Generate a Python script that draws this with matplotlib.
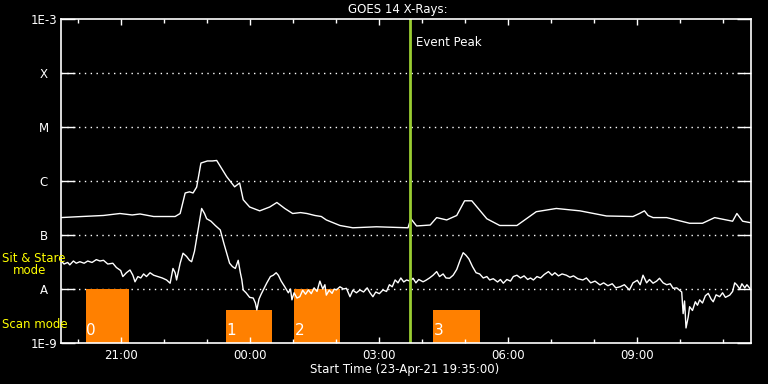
import matplotlib
matplotlib.use('Agg')
import numpy as np
import matplotlib.pyplot as plt

# minutes after 23-Apr-21 19:35:00
long_t = [0, 30, 60, 83, 100, 111, 130, 150, 160, 167, 174, 180, 185, 190,
          196, 205, 212, 218, 232, 243, 250, 255, 264, 278, 292, 302, 313,
          324, 335, 344, 355, 364, 371, 390, 408, 441, 470, 485, 489, 497,
          516, 525, 539, 553, 564, 574, 595, 613, 637, 664, 692, 725, 762,
          799, 808, 815, 820, 827, 846, 878, 896, 913, 938, 944, 952, 962]
long_flux = [2.1e-7, 2.2e-7, 2.3e-7, 2.5e-7, 2.35e-7, 2.45e-7, 2.2e-7,
             2.2e-7, 2.2e-7, 2.5e-7, 6.0e-7, 6.3e-7, 6.0e-7, 7.7e-7,
             2.15e-6, 2.35e-6, 2.35e-6, 2.4e-6, 1.2e-6, 7.8e-7, 9.2e-7,
             4.5e-7, 3.3e-7, 2.8e-7, 3.3e-7, 4.0e-7, 3.1e-7, 2.5e-7,
             2.6e-7, 2.5e-7, 2.3e-7, 2.2e-7, 1.9e-7, 1.5e-7, 1.36e-7,
             1.42e-7, 1.38e-7, 1.36e-7, 2.0e-7, 1.47e-7, 1.53e-7, 2.1e-7,
             1.9e-7, 2.3e-7, 4.3e-7, 4.3e-7, 2.0e-7, 1.5e-7, 1.5e-7,
             2.7e-7, 3.1e-7, 2.8e-7, 2.25e-7, 2.2e-7, 2.5e-7, 2.8e-7,
             2.3e-7, 2.1e-7, 2.1e-7, 1.65e-7, 1.65e-7, 2.1e-7, 1.8e-7,
             2.5e-7, 1.8e-7, 1.7e-7]

short_t = [0, 5, 10, 13, 18, 22, 27, 33, 38, 44, 50, 55, 60, 66, 73, 78, 84,
           87, 92, 97, 101, 104, 108, 112, 116, 120, 125, 130, 136, 142, 148,
           153, 157, 160, 162, 167, 171, 176, 180, 183, 187, 192, 197, 201,
           204, 210, 216, 223, 228, 232, 236, 240, 244, 248, 251, 253, 255,
           259, 264, 269, 272, 274, 277, 280, 283, 288, 293, 297, 301, 304,
           308, 313, 318, 321, 323, 326, 330, 334, 338, 342, 346, 350, 354,
           358, 362, 366, 369, 371, 375, 379, 382, 385, 390, 395, 399, 404,
           408, 413, 418, 423, 428, 432, 436, 440, 445, 450, 455, 459, 463,
           467, 471, 475, 479, 483, 488, 492, 496, 500, 506, 510, 515, 520,
           525, 529, 534, 538, 543, 548, 553, 558, 562, 566, 570, 575, 580,
           585, 590, 595, 599, 604, 610, 614, 618, 623, 628, 632, 637, 642,
           647, 652, 656, 660, 665, 670, 675, 681, 686, 690, 695, 700, 706,
           711, 716, 722, 729, 734, 740, 746, 753, 758, 764, 770, 775, 781,
           787, 794, 799, 805, 809, 813, 818, 822, 827, 832, 836, 841, 846,
           851, 855, 860, 864, 867, 869, 871, 873, 876, 878, 882, 886, 889,
           892, 896, 900, 904, 908, 911, 915, 920, 924, 928, 934, 938, 941,
           944, 948, 951, 955, 958, 962]
short_flux = [3.4e-8, 2.9e-8, 3.1e-8, 2.8e-8, 3.3e-8, 3.0e-8, 3.2e-8, 3.0e-8,
              3.3e-8, 3.1e-8, 3.5e-8, 3.3e-8, 3.4e-8, 2.9e-8, 3.0e-8, 2.5e-8,
              2.2e-8, 1.7e-8, 2.0e-8, 2.25e-8, 1.8e-8, 1.36e-8, 1.7e-8,
              1.6e-8, 1.9e-8, 1.7e-8, 2.0e-8, 1.8e-8, 1.7e-8, 1.6e-8, 1.47e-8,
              1.28e-8, 2.4e-8, 2.0e-8, 1.47e-8, 3.0e-8, 4.6e-8, 4.0e-8,
              3.4e-8, 3.2e-8, 5.0e-8, 1.24e-7, 3.1e-7, 2.5e-7, 2.0e-7, 1.8e-7,
              1.5e-7, 1.24e-7, 7.0e-8, 4.6e-8, 3.0e-8, 2.6e-8, 2.4e-8, 3.4e-8,
              2.0e-8, 1.5e-8, 9.6e-9, 8.5e-9, 7.0e-9, 6.8e-9, 5.5e-9, 4.1e-9,
              6.5e-9, 8.0e-9, 9.6e-9, 1.3e-8, 1.7e-8, 1.8e-8, 2.0e-8, 1.8e-8,
              1.4e-8, 1.1e-8, 8.5e-9, 1.0e-8, 6.3e-9, 8.5e-9, 6.8e-9, 7.2e-9,
              9.5e-9, 8.0e-9, 9.6e-9, 8.2e-9, 1.05e-8, 9.0e-9, 1.4e-8, 1.0e-8,
              1.2e-8, 7.7e-9, 9.5e-9, 8.3e-9, 1.0e-8, 9.6e-9, 1.1e-8, 1.0e-8,
              1.03e-8, 7.2e-9, 9.5e-9, 8.5e-9, 9.6e-9, 8.8e-9, 1.05e-8,
              8.5e-9, 7.2e-9, 8.8e-9, 8.2e-9, 9.6e-9, 9.0e-9, 1.2e-8, 1.1e-8,
              1.47e-8, 1.3e-8, 1.6e-8, 1.35e-8, 1.47e-8, 1.4e-8, 1.58e-8,
              1.3e-8, 1.5e-8, 1.36e-8, 1.45e-8, 1.6e-8, 1.8e-8, 2.1e-8,
              1.7e-8, 1.9e-8, 1.6e-8, 1.58e-8, 1.8e-8, 2.3e-8, 3.5e-8, 4.7e-8,
              4.2e-8, 3.6e-8, 2.6e-8, 2.0e-8, 1.9e-8, 1.6e-8, 1.7e-8, 1.47e-8,
              1.55e-8, 1.35e-8, 1.5e-8, 1.28e-8, 1.5e-8, 1.4e-8, 1.7e-8,
              1.8e-8, 1.6e-8, 1.75e-8, 1.5e-8, 1.6e-8, 1.47e-8, 1.7e-8,
              1.6e-8, 1.85e-8, 2.1e-8, 1.8e-8, 2.0e-8, 1.75e-8, 1.9e-8,
              1.8e-8, 1.65e-8, 1.75e-8, 1.55e-8, 1.47e-8, 1.6e-8, 1.3e-8,
              1.4e-8, 1.19e-8, 1.3e-8, 1.15e-8, 1.25e-8, 1.05e-8, 1.1e-8,
              1.2e-8, 9.6e-9, 1.3e-8, 1.45e-8, 1.2e-8, 1.8e-8, 1.3e-8, 1.5e-8,
              1.28e-8, 1.4e-8, 1.58e-8, 1.3e-8, 1.2e-8, 1.25e-8, 1.03e-8,
              1.05e-8, 9.5e-9, 8.8e-9, 3.5e-9, 6.0e-9, 1.9e-9, 3.0e-9, 4.7e-9,
              4.0e-9, 5.8e-9, 5.0e-9, 6.3e-9, 5.5e-9, 7.5e-9, 8.3e-9, 6.5e-9,
              5.8e-9, 7.8e-9, 7.2e-9, 8.5e-9, 7.0e-9, 7.7e-9, 9.0e-9, 1.3e-8,
              1.19e-8, 1.0e-8, 1.25e-8, 1.05e-8, 1.2e-8, 1.03e-8]

# observation blocks (start, end in minutes) and their heights
scan_ids = ['0', '1', '2', '3']
scan_start = [35, 231, 326, 520]
scan_end = [96, 295, 390, 586]
scan_top = [1e-8, 4e-9, 1e-8, 4e-9]

event_peak = 488
t_end = 963

tick_hours = ['21:00', '00:00', '03:00', '06:00', '09:00']
class_labels = ['1E-9', 'A', 'B', 'C', 'M', 'X', '1E-3']

fig = plt.figure(figsize=(7.68, 3.84), dpi=100, facecolor='black')
ax = fig.add_axes([60.5 / 768, 1 - 343 / 384, 690 / 768, 324 / 384])
ax.set_facecolor('black')

for i in range(len(scan_ids)):
    ax.fill_between([scan_start[i], scan_end[i]], 1e-9, scan_top[i],
                    color='#ff8000', lw=0, zorder=1)
    ax.text(scan_start[i] + 1, 1.25e-9, scan_ids[i], color='white',
            fontsize=11, ha='left', va='bottom', zorder=3)

ax.plot(long_t, long_flux, color='white', lw=1, zorder=2)
ax.plot(short_t, short_flux, color='white', lw=1, zorder=2)

ax.axvline(event_peak, color='#9acd32', lw=2, zorder=2)
ax.text(event_peak + 8, 3.6e-4, 'Event Peak', color='white', fontsize=8.5,
        va='center', ha='left')

ax.set_yscale('log')
ax.set_ylim(1e-9, 1e-3)
ax.set_xlim(0, t_end)

ax.set_yticks([10.0 ** e for e in range(-9, -2)])
ax.set_yticklabels(class_labels)
ax.yaxis.set_minor_locator(matplotlib.ticker.NullLocator())
ax.tick_params(axis='y', which='major', direction='in', length=10,
               width=1, colors='white', left=True, right=True,
               labelsize=8.5, pad=12)
for lab in ax.get_yticklabels():
    lab.set_ha('center')

ax.set_xticks([85 + 180 * i for i in range(len(tick_hours))])
ax.set_xticklabels(tick_hours)
ax.set_xticks(np.arange(25, t_end, 60), minor=True)
ax.tick_params(axis='x', which='major', direction='in', length=4.5,
               width=1, colors='white', top=True, labelsize=8.5, pad=4)
ax.tick_params(axis='x', which='minor', direction='in', length=3,
               width=1, colors='white', top=True)

for e in range(-8, -3):
    ax.axhline(10.0 ** e, color='white', lw=1, ls=(0, (1, 3.2)), zorder=0)

for s in ax.spines.values():
    s.set_color('white')
    s.set_linewidth(1.2)

fig.text(398 / 768, 1 - 9 / 384, 'GOES 14 X-Rays:', color='white',
         fontsize=8.5, ha='center', va='center')
fig.text(405 / 768, 1 - 369 / 384, 'Start Time (23-Apr-21 19:35:00)',
         color='white', fontsize=8.5, ha='center', va='center')

fig.text(2 / 768, 1 - 259 / 384, 'Sit & Stare', color='yellow', fontsize=8.5,
         ha='left', va='center')
fig.text(13 / 768, 1 - 271 / 384, 'mode', color='yellow', fontsize=8.5,
         ha='left', va='center')
fig.text(2 / 768, 1 - 324 / 384, 'Scan mode', color='yellow', fontsize=8.5,
         ha='left', va='center')

fig.savefig('out.png', dpi=100, facecolor='black')
